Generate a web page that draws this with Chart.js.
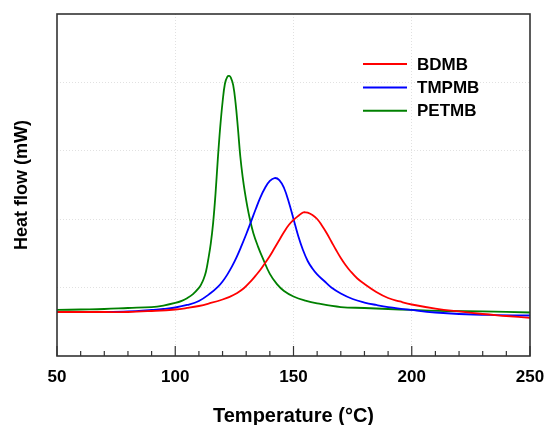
<!DOCTYPE html>
<html>
<head>
<meta charset="utf-8">
<script src="https://cdn.jsdelivr.net/npm/chart.js@4"></script>
<style>
  html, body { margin: 0; padding: 0; background: #fff; }
</style>
</head>
<body>
<canvas id="dscChart" width="547" height="425"></canvas>
<script>
// temperature (°C) and heat flow (arbitrary units)
const bdmbT = [50,60,70,80,90,100,105,110,115,120,123,126,129,132,134,136,138,140,142,144,146,148,150,152,154,155,156,158,160,162,164,166,168,170,172,174,177,180,185,190,195,200,210,220,230,240,250];
const bdmbHF = [0.643,0.643,0.643,0.643,0.658,0.680,0.702,0.731,0.775,0.826,0.865,0.918,0.990,1.095,1.175,1.260,1.360,1.462,1.579,1.696,1.813,1.915,1.988,2.047,2.098,2.101,2.096,2.061,2.003,1.908,1.798,1.674,1.550,1.433,1.330,1.243,1.133,1.053,0.936,0.848,0.797,0.753,0.694,0.651,0.614,0.585,0.556];

const tmpmbT = [50,60,70,80,90,95,100,105,110,115,118,120,122,124,126,128,130,132,134,136,138,140,142,144,146,148,150,152,154,156,158,160,163,166,170,175,180,185,190,200,210,220,235,250];
const tmpmbHF = [0.643,0.643,0.643,0.651,0.673,0.687,0.709,0.746,0.804,0.920,1.010,1.090,1.190,1.310,1.450,1.610,1.780,1.960,2.145,2.320,2.460,2.560,2.602,2.573,2.456,2.251,2.003,1.754,1.550,1.389,1.279,1.192,1.096,1.001,0.914,0.833,0.782,0.746,0.716,0.673,0.636,0.614,0.599,0.592];

const petmbT = [50,60,70,80,90,95,100,103,105,107.5,110,111,112,113,114,115,116,117,118,119,120,121,122,122.8,123.5,124.5,125.5,126.5,127.5,128.5,129.5,130.5,131.5,133,135,137,140,143,146,150,155,160,170,180,190,200,215,230,250];
const petmbHF = [0.673,0.680,0.687,0.702,0.716,0.738,0.775,0.810,0.845,0.905,0.995,1.050,1.125,1.235,1.420,1.640,1.940,2.360,2.880,3.340,3.710,3.980,4.080,4.094,4.070,3.960,3.700,3.330,2.920,2.620,2.380,2.180,2.010,1.800,1.600,1.430,1.200,1.050,0.950,0.870,0.810,0.770,0.716,0.702,0.687,0.673,0.658,0.651,0.636];

const seriesNames = ["BDMB", "TMPMB", "PETMB"];
const seriesColors = ["#ff0000", "#0000ff", "#008000"];
const xMajorTicks = [50, 100, 150, 200, 250];

function toPoints(xs, ys) {
    return xs.map((x, i) => ({ x: x, y: ys[i] }));
}

const FONT = "Arial, 'Liberation Sans', sans-serif";
const GRID = "rgba(170,170,170,0.35)";

// frame, inward ticks and legend
const framePlugin = {
    id: "frame",
    afterDatasetsDraw(chart) {
        const { ctx, chartArea } = chart;
        const xs = chart.scales.x;
        ctx.save();
        ctx.strokeStyle = "#333";
        ctx.lineWidth = 1.6;
        ctx.strokeRect(chartArea.left, chartArea.top, chartArea.right - chartArea.left, chartArea.bottom - chartArea.top);

        ctx.lineWidth = 1.2;
        xs.ticks.forEach(t => {
            const px = xs.getPixelForValue(t.value);
            const len = xMajorTicks.includes(t.value) ? 10 : 5;
            ctx.beginPath();
            ctx.moveTo(px, chartArea.bottom);
            ctx.lineTo(px, chartArea.bottom - len);
            ctx.stroke();
        });

        // legend
        const lx = chartArea.right - 167;
        const ly = chartArea.top + 50;
        ctx.font = "bold 17px " + FONT;
        ctx.textBaseline = "middle";
        ctx.textAlign = "left";
        chart.data.datasets.forEach((ds, i) => {
            const y = ly + i * 23.4;
            ctx.strokeStyle = ds.borderColor;
            ctx.lineWidth = 2;
            ctx.beginPath();
            ctx.moveTo(lx, y);
            ctx.lineTo(lx + 44, y);
            ctx.stroke();
            ctx.fillStyle = "#000";
            ctx.fillText(ds.label, lx + 54, y + 1);
        });
        ctx.restore();
    }
};

const ctx = document.getElementById("dscChart").getContext("2d");
new Chart(ctx, {
    type: "line",
    data: {
        datasets: [
            { label: seriesNames[0], data: toPoints(bdmbT, bdmbHF), borderColor: seriesColors[0] },
            { label: seriesNames[1], data: toPoints(tmpmbT, tmpmbHF), borderColor: seriesColors[1] },
            { label: seriesNames[2], data: toPoints(petmbT, petmbHF), borderColor: seriesColors[2] }
        ].map(d => Object.assign(d, {
            borderWidth: 1.8,
            pointRadius: 0,
            fill: false,
            tension: 0.4
        }))
    },
    options: {
        responsive: false,
        devicePixelRatio: 1,
        animation: false,
        layout: { autoPadding: false, padding: { top: 14, right: 17, left: 0, bottom: 0 } },
        plugins: {
            legend: { display: false },
            tooltip: { enabled: false }
        },
        scales: {
            x: {
                type: "linear",
                min: 50,
                max: 250,
                afterFit(scale) {
                    scale.height = 69;
                    scale.paddingLeft = 0;
                    scale.paddingRight = 0;
                },
                border: { display: false, dash: [1, 2] },
                grid: {
                    drawTicks: false,
                    lineWidth: 1,
                    color: c => [100, 150, 200].includes(c.tick.value) ? GRID : "rgba(0,0,0,0)"
                },
                ticks: {
                    stepSize: 10,
                    padding: 11,
                    color: "#000",
                    font: { family: FONT, size: 17, weight: "bold" },
                    maxRotation: 0,
                    autoSkip: false,
                    callback: v => xMajorTicks.includes(v) ? String(v) : ""
                },
                title: {
                    display: true,
                    text: "Temperature (°C)",
                    color: "#000",
                    font: { family: FONT, size: 20, weight: "bold", lineHeight: 1 },
                    padding: { top: 0, bottom: -1 }
                }
            },
            y: {
                min: 0,
                max: 5,
                afterFit(scale) { scale.width = 57; },
                border: { display: false, dash: [1, 2] },
                grid: {
                    drawTicks: false,
                    color: c => (c.tick.value > 0 && c.tick.value < 5) ? GRID : "rgba(0,0,0,0)"
                },
                ticks: { stepSize: 1, display: false },
                title: {
                    display: true,
                    text: "Heat flow (mW)",
                    color: "#000",
                    font: { family: FONT, size: 18, weight: "bold", lineHeight: 1 },
                    padding: { top: 13, bottom: 0 }
                }
            }
        }
    },
    plugins: [framePlugin]
});
</script>
</body>
</html>
